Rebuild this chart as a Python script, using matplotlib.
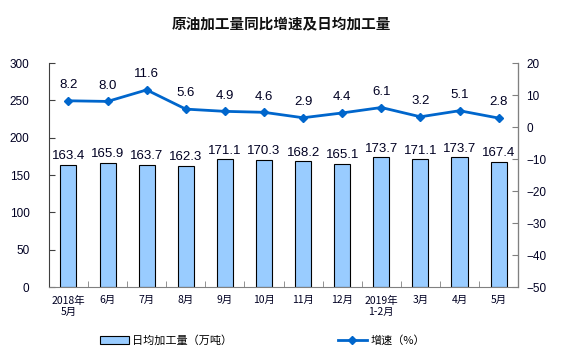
import matplotlib.pyplot as plt
from matplotlib.lines import Line2D
from matplotlib.patches import Patch

plt.rcParams['font.family'] = ['Liberation Sans', 'Noto Sans CJK SC']

months = ['2018年\n5月', '6月', '7月', '8月', '9月', '10月', '11月', '12月',
          '2019年\n1-2月', '3月', '4月', '5月']
daily_output = [163.4, 165.9, 163.7, 162.3, 171.1, 170.3, 168.2, 165.1,
                173.7, 171.1, 173.7, 167.4]
growth = [8.2, 8.0, 11.6, 5.6, 4.9, 4.6, 2.9, 4.4, 6.1, 3.2, 5.1, 2.8]

bar_color = '#99CCFF'
line_color = '#0066CC'
text_color = '#000022'
cjk = ['Noto Sans CJK SC', 'DejaVu Sans']

fig = plt.figure(figsize=(5.62, 3.58), dpi=100)
ax = fig.add_axes([0.087, 0.198, 0.835, 0.626])
ax2 = ax.twinx()

x = list(range(len(months)))
ax.bar(x, daily_output, width=0.41, color=bar_color, edgecolor='black', linewidth=0.8)
for xi, v in zip(x, daily_output):
    ax.annotate(f'{v:.1f}', (xi, v), xytext=(0, 2), textcoords='offset points',
                ha='center', va='bottom', fontsize=9.5, color=text_color)

ax2.plot(x, growth, color=line_color, linewidth=2, marker='D', markersize=4)
for xi, v in zip(x, growth):
    ax2.annotate(f'{v:.1f}', (xi, v), xytext=(0, 7), textcoords='offset points',
                 ha='center', va='bottom', fontsize=9.5, color=text_color)

ax.set_xlim(-0.5, len(months) - 0.5)
ax.set_ylim(0, 300)
ax.set_yticks(range(0, 301, 50))
ax2.set_ylim(-50, 20)
ax2.set_yticks(range(-50, 21, 10))

ax.set_xticks(x)
ax.set_xticklabels(months, fontsize=7.5, color=text_color, family=cjk)
ax.set_xticks([i - 0.5 for i in range(1, len(months))], minor=True)
ax.tick_params(axis='x', which='major', length=0, pad=6)
ax.tick_params(axis='x', which='minor', direction='in', length=4, color='#808080')
ax.tick_params(axis='y', direction='in', length=4, labelsize=8.5, labelcolor=text_color,
               color='#404040', pad=14)
ax2.tick_params(axis='y', direction='in', length=4, labelsize=8.5, labelcolor=text_color,
                color='#808080', pad=6)

for a in (ax, ax2):
    a.spines['top'].set_visible(False)
ax.spines['left'].set_color('#404040')
ax.spines['bottom'].set_color('#808080')
ax2.spines['right'].set_color('#808080')
ax2.spines['left'].set_visible(False)
ax2.spines['bottom'].set_visible(False)

fig.text(0.5, 0.935, '原油加工量同比增速及日均加工量', ha='center', va='center',
         fontsize=10.5, fontweight='bold', color='#111111', family=cjk)

handles = [Patch(facecolor=bar_color, edgecolor='black', linewidth=0.8),
           Line2D([], [], color=line_color, linewidth=2, marker='D', markersize=4)]
fig.legend(handles, ['日均加工量（万吨）', '增速（%）'], loc='center',
           bbox_to_anchor=(0.467, 0.048), ncol=2, frameon=False,
           prop={'family': cjk, 'size': 8},
           columnspacing=9.5, handlelength=2.6, handletextpad=0.3)

fig.savefig('out.png', dpi=100)
